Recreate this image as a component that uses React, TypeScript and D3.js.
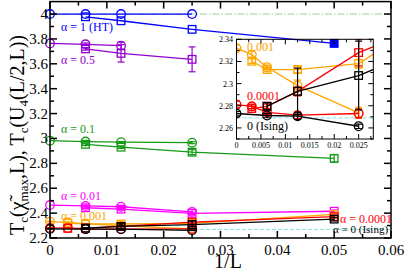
import * as d3 from 'd3';

// each point: [1/L, Tc, error]
type Pt = [number, number, number];

const X_TICKS = [0, 0.01, 0.02, 0.03, 0.04, 0.05, 0.06];
const X_LABELS = ['0', '0.01', '0.02', '0.03', '0.04', '0.05', '0.06'];
const Y_TICKS = [2.2, 2.4, 2.6, 2.8, 3, 3.2, 3.4, 3.6, 3.8, 4];
const Y_LABELS = ['2.2', '2.4', '2.6', '2.8', '3', '3.2', '3.4', '3.6', '3.8', '4'];
const IN_X_TICKS = [0, 0.005, 0.01, 0.015, 0.02, 0.025];
const IN_X_LABELS = ['0', '0.005', '0.01', '0.015', '0.02', '0.025'];
const IN_Y_TICKS = [2.26, 2.28, 2.3, 2.32, 2.34];
const IN_Y_LABELS = ['2.26', '2.28', '2.3', '2.32', '2.34'];

const TC_HT = 4.0;
const TC_ISING = 2.269;

// alpha = 1 (HT)
const ht_chi: Pt[] = [[0, 4.0, 0], [1 / 160, 4.0, 0], [1 / 80, 4.0, 0], [1 / 40, 4.0, 0]];
const ht_u4: Pt[] = [[1 / 160, 3.978, 0], [1 / 80, 3.946, 0], [1 / 40, 3.877, 0], [1 / 20, 3.764, 0]];
// alpha = 0.5
const a05_chi: Pt[] = [[0, 3.764, 0], [1 / 160, 3.757, 0.01], [1 / 80, 3.746, 0.028]];
const a05_u4: Pt[] = [[1 / 160, 3.72, 0.01], [1 / 80, 3.684, 0.07], [1 / 40, 3.636, 0.1]];
// alpha = 0.1
const a01_chi: Pt[] = [[0, 2.982, 0], [1 / 160, 2.975, 0.005], [1 / 80, 2.97, 0.005], [1 / 40, 2.966, 0.008]];
const a01_u4: Pt[] = [[1 / 160, 2.953, 0.008], [1 / 80, 2.93, 0.01], [1 / 40, 2.89, 0.02], [1 / 20, 2.84, 0.03]];
// alpha = 0.01
const a001_chi: Pt[] = [[0, 2.465, 0], [1 / 160, 2.458, 0.005], [1 / 80, 2.451, 0.005], [1 / 40, 2.41, 0.02]];
const a001_u4: Pt[] = [[1 / 160, 2.443, 0.005], [1 / 80, 2.432, 0.006], [1 / 40, 2.398, 0.01], [1 / 20, 2.415, 0.01]];
// alpha = 0.001
const a0001_chi: Pt[] = [[0, 2.332, 0.003], [1 / 320, 2.3262, 0.003], [1 / 160, 2.3148, 0.002], [1 / 80, 2.2982, 0.005], [1 / 40, 2.2735, 0.005]];
const a0001_u4: Pt[] = [[1 / 320, 2.3202, 0.002], [1 / 160, 2.3127, 0.002], [1 / 80, 2.3127, 0.003], [1 / 40, 2.318, 0.004], [1 / 20, 2.39, 0.01]];
// alpha = 0.0001
const a00001_chi: Pt[] = [[0, 2.2811, 0.003], [1 / 320, 2.2795, 0.002], [1 / 160, 2.274, 0.002], [1 / 80, 2.2715, 0.003], [1 / 40, 2.273, 0.004]];
const a00001_u4: Pt[] = [[1 / 320, 2.2775, 0.002], [1 / 160, 2.2795, 0.002], [1 / 80, 2.293, 0.004], [1 / 40, 2.328, 0.012], [1 / 20, 2.372, 0.01]];
// alpha = 0 (Ising)
const ising_chi: Pt[] = [[0, 2.273, 0.002], [1 / 160, 2.2712, 0.002], [1 / 80, 2.2706, 0.003], [1 / 40, 2.2615, 0.002]];
const ising_u4: Pt[] = [[1 / 160, 2.2796, 0.003], [1 / 80, 2.293, 0.021], [1 / 40, 2.3073, 0.031], [1 / 20, 2.352, 0.015]];

const BLUE = '#0000ff';
const VIOLET = '#9400d3';
const GREEN = '#149a14';
const MAGENTA = '#ff00ff';
const ORANGE = '#ffa500';
const RED = '#ff0000';
const BLACK = '#000000';

interface Series { data: Pt[]; color: string; shape: 'o' | 's'; filledLast?: boolean }

const mainSeries: Series[] = [
  { data: ht_chi, color: BLUE, shape: 'o' },
  { data: ht_u4, color: BLUE, shape: 's', filledLast: true },
  { data: a05_chi, color: VIOLET, shape: 'o' },
  { data: a05_u4, color: VIOLET, shape: 's' },
  { data: a01_chi, color: GREEN, shape: 'o' },
  { data: a01_u4, color: GREEN, shape: 's' },
  { data: a001_chi, color: MAGENTA, shape: 'o' },
  { data: a001_u4, color: MAGENTA, shape: 's' },
  { data: a0001_chi, color: ORANGE, shape: 'o' },
  { data: a0001_u4, color: ORANGE, shape: 's' },
  { data: a00001_chi, color: RED, shape: 'o' },
  { data: a00001_u4, color: RED, shape: 's' },
  { data: ising_chi, color: BLACK, shape: 'o' },
  { data: ising_u4, color: BLACK, shape: 's' },
];
const insetSeries = mainSeries.slice(8);

const FONT = 'Liberation Serif, Times New Roman, serif';

const x = d3.scaleLinear().domain([0, 0.06]).range([50, 391]);
const y = d3.scaleLinear().domain([2.2, 4.1]).range([238, 1.6]);
const xi = d3.scaleLinear().domain([0, 0.028]).range([236.5, 373.3]);
const yi = d3.scaleLinear().domain([2.25, 2.34]).range([139, 39.3]);

type Scale = d3.ScaleLinear<number, number>;

function Marks({ sx, sy, s, r, half, cap }: { sx: Scale; sy: Scale; s: Series; r: number; half: number; cap: number }) {
  const line = d3.line<Pt>().x(d => sx(d[0])).y(d => sy(d[1]));
  return (
    <g>
      <path d={line(s.data) || ''} fill="none" stroke={s.color} strokeWidth={1.3} />
      {s.data.map((d, i) => d[2] > 0 && (
        <g key={'e' + i} stroke={s.color} strokeWidth={1.2}>
          <line x1={sx(d[0])} x2={sx(d[0])} y1={sy(d[1] - d[2])} y2={sy(d[1] + d[2])} />
          <line x1={sx(d[0]) - cap} x2={sx(d[0]) + cap} y1={sy(d[1] - d[2])} y2={sy(d[1] - d[2])} />
          <line x1={sx(d[0]) - cap} x2={sx(d[0]) + cap} y1={sy(d[1] + d[2])} y2={sy(d[1] + d[2])} />
        </g>
      ))}
      {s.data.map((d, i) => {
        const filled = s.filledLast && i === s.data.length - 1;
        return s.shape === 'o'
          ? <circle key={'m' + i} cx={sx(d[0])} cy={sy(d[1])} r={r} fill="none" stroke={s.color} strokeWidth={1.3} />
          : <rect key={'m' + i} x={sx(d[0]) - half} y={sy(d[1]) - half} width={half * 2} height={half * 2}
              fill={filled ? s.color : 'none'} stroke={s.color} strokeWidth={1.3} />;
      })}
    </g>
  );
}

function Frame({ sx, sy, xt, yt, xm, ym, major, minor, sw }: {
  sx: Scale; sy: Scale; xt: number[]; yt: number[]; xm: number[]; ym: number[]; major: number; minor: number; sw: number;
}) {
  const [x0, x1] = sx.range();
  const [y0, y1] = sy.range();
  return (
    <g stroke="#000" strokeWidth={sw} fill="none">
      <rect x={x0} y={y1} width={x1 - x0} height={y0 - y1} />
      {[...xt.map(v => [v, major]), ...xm.map(v => [v, minor])].map(([v, l], i) => (
        <g key={'x' + i}>
          <line x1={sx(v)} x2={sx(v)} y1={y0} y2={y0 - l} />
          <line x1={sx(v)} x2={sx(v)} y1={y1} y2={y1 + l} />
        </g>
      ))}
      {[...yt.map(v => [v, major]), ...ym.map(v => [v, minor])].map(([v, l], i) => (
        <g key={'y' + i}>
          <line x1={x0} x2={x0 + l} y1={sy(v)} y2={sy(v)} />
          <line x1={x1} x2={x1 - l} y1={sy(v)} y2={sy(v)} />
        </g>
      ))}
    </g>
  );
}

export default function App() {
  const xMinor = d3.range(0.005, 0.06, 0.01);
  const yMinor = d3.range(2.3, 4.1, 0.2);
  const ixMinor = d3.range(0.0025, 0.028, 0.005);
  const iyMinor = d3.range(2.27, 2.34, 0.02).concat([2.25]);

  return (
    <svg width={405} height={272} fontFamily={FONT} style={{ position: 'absolute', left: 0, top: 0 }}>
      <rect width={405} height={272} fill="#fff" />

      {/* reference lines */}
      <line x1={x(0)} x2={x(0.06)} y1={y(TC_HT)} y2={y(TC_HT)} stroke="#8fd88f" strokeWidth={1} strokeDasharray="7,2,1.5,2" />
      <line x1={x(0)} x2={x(0.06)} y1={y(TC_ISING)} y2={y(TC_ISING)} stroke="#7fe3e3" strokeWidth={1} strokeDasharray="4,2" />

      {mainSeries.map((s, i) => <Marks key={i} sx={x} sy={y} s={s} r={4.3} half={3.8} cap={3.5} />)}

      <Frame sx={x} sy={y} xt={X_TICKS} yt={Y_TICKS} xm={xMinor} ym={yMinor} major={7} minor={4} sw={1.5} />

      {X_TICKS.map((v, i) => (
        <text key={i} x={x(v)} y={255} fontSize={15} textAnchor="middle">{X_LABELS[i]}</text>
      ))}
      {Y_TICKS.map((v, i) => (
        <text key={i} x={48} y={y(v) + 5} fontSize={15} textAnchor="end">{Y_LABELS[i]}</text>
      ))}

      <text x={228} y={268} fontSize={20} textAnchor="middle">1/L</text>
      <text transform={`translate(24,${135})rotate(-90)`} fontSize={20} textAnchor="middle">
        T<tspan fontSize={13} dy={4}>c</tspan><tspan dy={-4}>(χ̃</tspan><tspan fontSize={13} dy={4}>max</tspan>
        <tspan dy={-4}>,L), T</tspan><tspan fontSize={13} dy={4}>c</tspan><tspan dy={-4}>(U</tspan>
        <tspan fontSize={13} dy={4}>4</tspan><tspan dy={-4}>(L/2,L))</tspan>
      </text>

      {/* series labels */}
      <g fontSize={12}>
        <text x={61} y={31} fill={BLUE}>α = 1 (HT)</text>
        <text x={61} y={64} fill={VIOLET}>α = 0.5</text>
        <text x={61} y={133} fill={GREEN}>α = 0.1</text>
        <text x={61} y={200} fill={MAGENTA}>α = 0.01</text>
        <text x={61} y={220} fill={ORANGE}>α = 0.001</text>
        <text x={340} y={223} fill={RED}>α = 0.0001</text>
        <text x={333} y={233} fill={BLACK} fontSize={11}>α = 0 (Ising)</text>
      </g>

      {/* inset */}
      <defs>
        <clipPath id="inclip">
          <rect x={236.5} y={39.3} width={373.3 - 236.5} height={139 - 39.3} />
        </clipPath>
      </defs>
      <g clipPath="url(#inclip)">
        <line x1={xi(0)} x2={xi(0.028)} y1={yi(TC_ISING)} y2={yi(TC_ISING)} stroke="#7fe3e3" strokeWidth={1} strokeDasharray="4,2" />
        {insetSeries.map((s, i) => <Marks key={i} sx={xi} sy={yi} s={s} r={4.3} half={3.8} cap={3.5} />)}
      </g>
      <Frame sx={xi} sy={yi} xt={IN_X_TICKS} yt={IN_Y_TICKS} xm={ixMinor} ym={iyMinor} major={5} minor={3} sw={1} />
      {IN_X_TICKS.map((v, i) => (
        <text key={i} x={xi(v)} y={148} fontSize={8} textAnchor="middle">{IN_X_LABELS[i]}</text>
      ))}
      {IN_Y_TICKS.map((v, i) => (
        <text key={i} x={233} y={yi(v) + 3} fontSize={8} textAnchor="end">{IN_Y_LABELS[i]}</text>
      ))}
      <g fontSize={12}>
        <text x={247} y={51} fill={ORANGE}>0.001</text>
        <text x={247} y={100} fill={RED}>0.0001</text>
        <text x={247} y={130} fill={BLACK}>0 (Ising)</text>
      </g>
    </svg>
  );
}
